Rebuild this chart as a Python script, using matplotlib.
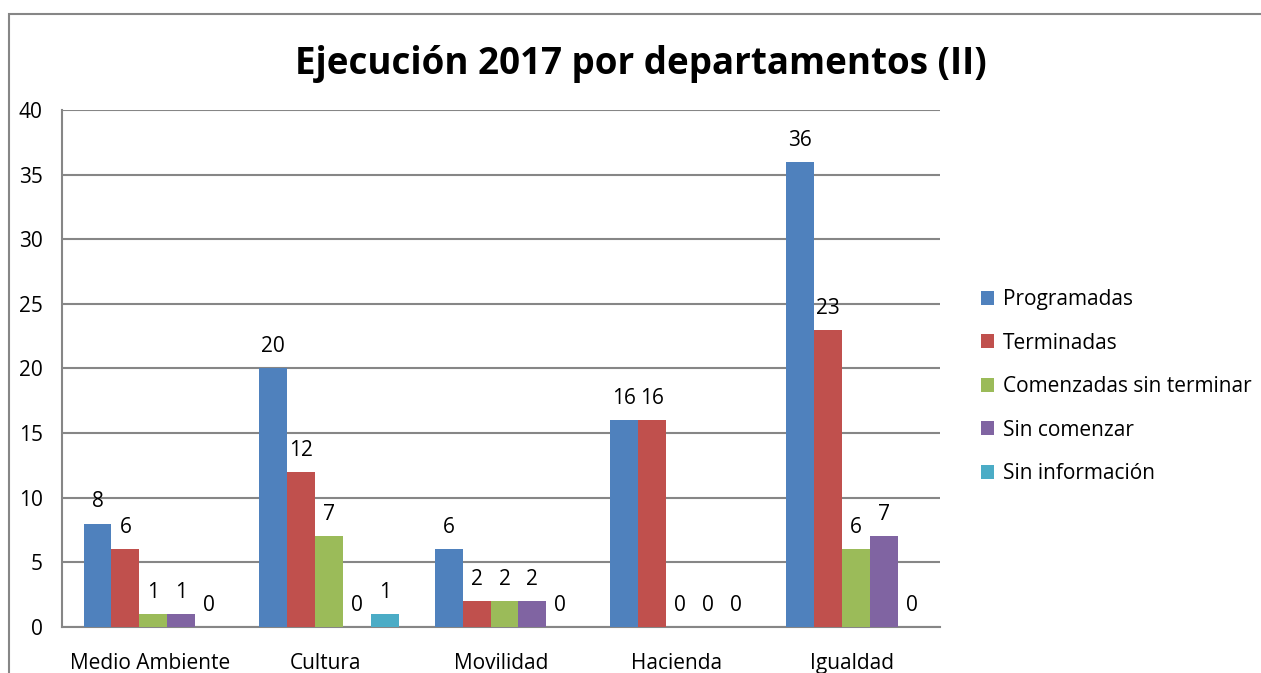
import matplotlib.pyplot as plt
import matplotlib.patches as mpatches
import numpy as np

plt.rcParams['font.family'] = ['Open Sans', 'DejaVu Sans']

categories = ['Medio Ambiente', 'Cultura', 'Movilidad', 'Hacienda', 'Igualdad']
series_names = ['Programadas', 'Terminadas', 'Comenzadas sin terminar',
                'Sin comenzar', 'Sin información']
programadas = [8, 20, 6, 16, 36]
terminadas = [6, 12, 2, 16, 23]
comenzadas = [1, 7, 2, 0, 6]
sin_comenzar = [1, 0, 2, 0, 7]
sin_info = [0, 1, 0, 0, 0]
series = [programadas, terminadas, comenzadas, sin_comenzar, sin_info]
colors = ['#4F81BD', '#C0504D', '#9BBB59', '#8064A2', '#4BACC6']

fig = plt.figure(figsize=(12.61, 6.73), dpi=100)
ax = fig.add_axes([0.0492, 0.0684, 0.6962, 0.7682])

# outer chart frame (cropped at right and bottom)
frame = mpatches.Rectangle((8.5 / 1261, -0.05), 1.2, 1 - 13.5 / 673 + 0.05,
                           transform=fig.transFigure, fill=False,
                           edgecolor='#868686', linewidth=1.5, zorder=0)
fig.patches.append(frame)

x = np.arange(len(categories))
w = 0.159
for i, (vals, name, c) in enumerate(zip(series, series_names, colors)):
    pos = x + (i - 2) * w + 0.02
    ax.bar(pos, vals, width=w, color=c, label=name, linewidth=0, zorder=3)
    for px, v in zip(pos, vals):
        ax.annotate(str(v), (px, v), xytext=(0, 8), textcoords='offset points',
                    ha='center', va='bottom', fontsize=15)

ax.set_xlim(-0.5, len(categories) - 0.5)
ax.set_ylim(0, 40)
ax.set_yticks(range(0, 41, 5))
ax.set_xticks(x)
ax.set_xticklabels(categories)
ax.tick_params(axis='both', length=0, labelsize=15)
ax.tick_params(axis='x', pad=19)
ax.tick_params(axis='y', pad=14)
ax.yaxis.grid(True, color='#868686', linewidth=1.5, zorder=0)
ax.set_axisbelow(True)
for s in ['top', 'right']:
    ax.spines[s].set_visible(False)
for s in ['left', 'bottom']:
    ax.spines[s].set_color('#868686')
    ax.spines[s].set_linewidth(1.5)

fig.text(0.508, 0.905, 'Ejecución 2017 por departamentos (II)', ha='center',
         va='center', fontsize=26.5, fontweight='bold')

ax.legend(loc='center left', bbox_to_anchor=(1.025, 0.465), frameon=False,
          fontsize=15, handlelength=0.65, handleheight=0.65, handletextpad=0.4,
          labelspacing=1.08)

fig.savefig('out.png', dpi=100)
plt.close(fig)
